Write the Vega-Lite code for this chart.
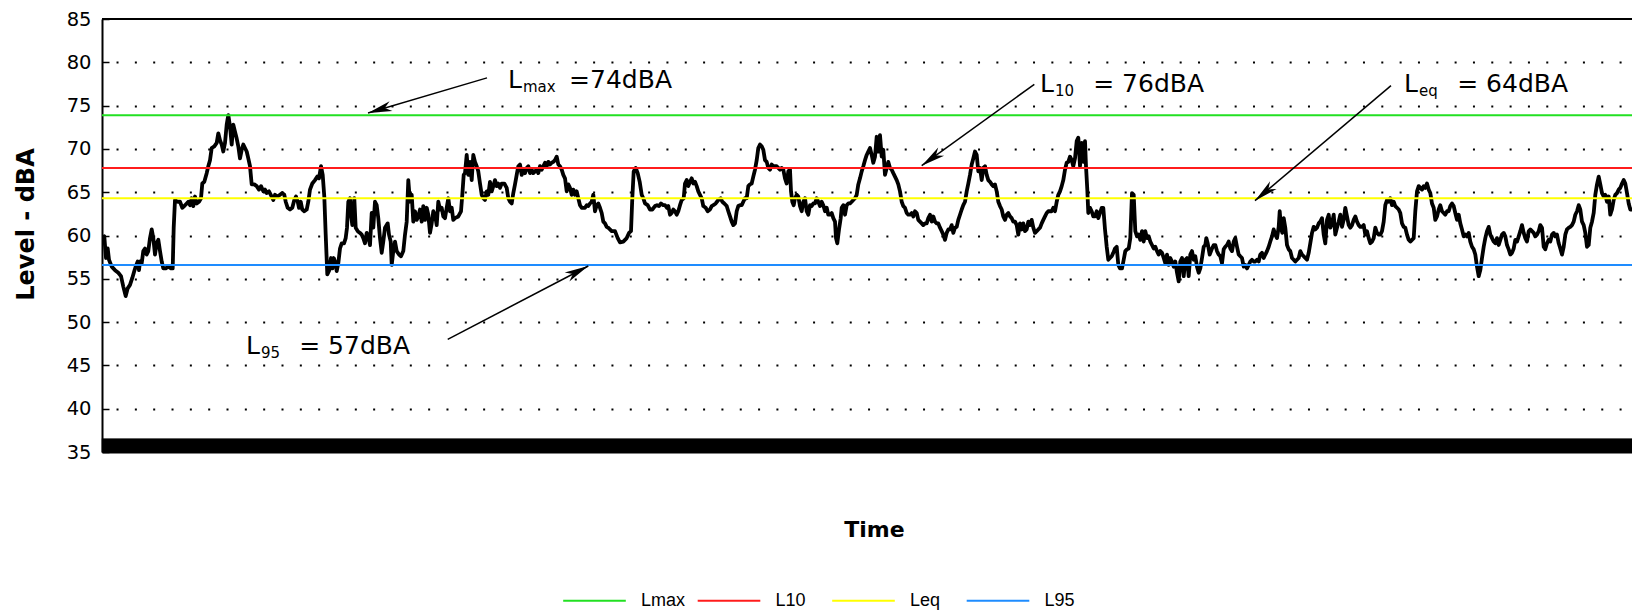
{
  "$schema": "https://vega.github.io/schema/vega-lite/v6.json",
  "autosize": {"type": "none"},
  "padding": {"left": 102, "top": 19, "right": 0, "bottom": 158},
  "width": 1530,
  "height": 433,
  "config": {"view": {"stroke": null}, "font": "DejaVu Sans"},
  "datasets": {
    "noise": [
      {"t":0,"dBA":59.7},{"t":2.3,"dBA":59.9},{"t":4,"dBA":57.4},{"t":5.7,"dBA":58.5},{"t":7,"dBA":57.2},{"t":9.7,"dBA":56.4},{"t":13,"dBA":56.0},{"t":16.3,"dBA":55.7},{"t":19,"dBA":55.3},{"t":21.3,"dBA":54.1},{"t":23.7,"dBA":53.0},{"t":25.7,"dBA":53.9},{"t":28,"dBA":54.3},{"t":30.3,"dBA":55.1},{"t":32.3,"dBA":55.9},{"t":33.7,"dBA":56.4},{"t":35.7,"dBA":57.0},{"t":37,"dBA":56.0},{"t":38,"dBA":57.0},{"t":39.7,"dBA":56.8},{"t":41.3,"dBA":58.2},{"t":43,"dBA":58.5},{"t":44.7,"dBA":57.8},{"t":46.3,"dBA":58.2},{"t":48,"dBA":59.7},{"t":49.7,"dBA":60.7},{"t":51.3,"dBA":59.7},{"t":53,"dBA":57.8},{"t":54.7,"dBA":59.1},{"t":56.3,"dBA":59.5},{"t":58,"dBA":58.2},{"t":59.7,"dBA":57.0},{"t":61.3,"dBA":56.2},{"t":63.7,"dBA":56.2},{"t":66.3,"dBA":56.4},{"t":69,"dBA":56.2},{"t":70.7,"dBA":56.2},{"t":71.7,"dBA":60.9},{"t":73,"dBA":64.1},{"t":75.7,"dBA":63.9},{"t":78,"dBA":63.9},{"t":80.3,"dBA":63.2},{"t":82.3,"dBA":63.4},{"t":84.7,"dBA":63.7},{"t":86.3,"dBA":63.9},{"t":88,"dBA":63.5},{"t":89.7,"dBA":64.3},{"t":91.3,"dBA":63.4},{"t":93,"dBA":64.5},{"t":94.7,"dBA":63.7},{"t":97,"dBA":63.9},{"t":99,"dBA":64.3},{"t":100.3,"dBA":66.0},{"t":102.3,"dBA":66.2},{"t":104.7,"dBA":67.2},{"t":106.3,"dBA":68.0},{"t":108,"dBA":68.7},{"t":109.7,"dBA":70.1},{"t":112.3,"dBA":70.3},{"t":114.7,"dBA":70.7},{"t":116.3,"dBA":71.8},{"t":118,"dBA":71.0},{"t":119.7,"dBA":70.5},{"t":121.3,"dBA":69.7},{"t":123,"dBA":70.7},{"t":124.7,"dBA":72.8},{"t":126.3,"dBA":73.9},{"t":128,"dBA":72.6},{"t":129.7,"dBA":70.5},{"t":131.3,"dBA":72.8},{"t":133,"dBA":72.0},{"t":134.7,"dBA":71.2},{"t":136.3,"dBA":70.3},{"t":138,"dBA":68.9},{"t":139.7,"dBA":69.9},{"t":141.3,"dBA":70.5},{"t":143,"dBA":70.1},{"t":144.7,"dBA":69.7},{"t":146.3,"dBA":68.9},{"t":148,"dBA":68.0},{"t":149.7,"dBA":65.9},{"t":152.3,"dBA":65.9},{"t":154.7,"dBA":65.7},{"t":157,"dBA":65.3},{"t":159,"dBA":65.7},{"t":161.3,"dBA":65.1},{"t":163,"dBA":65.3},{"t":164.7,"dBA":64.9},{"t":167,"dBA":65.1},{"t":169.7,"dBA":64.5},{"t":171.3,"dBA":64.1},{"t":173,"dBA":64.7},{"t":175.7,"dBA":64.5},{"t":178,"dBA":64.7},{"t":180.3,"dBA":64.9},{"t":182.3,"dBA":64.7},{"t":183.7,"dBA":63.9},{"t":185.7,"dBA":63.2},{"t":188,"dBA":63.0},{"t":190.3,"dBA":63.2},{"t":192.3,"dBA":64.1},{"t":194,"dBA":64.5},{"t":195.7,"dBA":63.9},{"t":197,"dBA":63.2},{"t":198.7,"dBA":63.9},{"t":200.3,"dBA":63.0},{"t":202.3,"dBA":62.8},{"t":204.7,"dBA":63.0},{"t":206.3,"dBA":63.9},{"t":208,"dBA":65.3},{"t":210.3,"dBA":66.0},{"t":213,"dBA":66.4},{"t":215.3,"dBA":66.8},{"t":217,"dBA":66.6},{"t":219,"dBA":68.0},{"t":220.7,"dBA":67.0},{"t":222.3,"dBA":64.5},{"t":223.7,"dBA":60.1},{"t":225.3,"dBA":55.5},{"t":227,"dBA":55.9},{"t":229,"dBA":57.4},{"t":230.3,"dBA":56.2},{"t":231.7,"dBA":57.4},{"t":233,"dBA":57.0},{"t":234.7,"dBA":55.9},{"t":236.3,"dBA":56.8},{"t":238,"dBA":58.5},{"t":239.7,"dBA":59.1},{"t":242,"dBA":59.1},{"t":243.7,"dBA":59.7},{"t":245,"dBA":60.9},{"t":246.3,"dBA":63.9},{"t":248,"dBA":64.3},{"t":249,"dBA":62.4},{"t":250.3,"dBA":61.2},{"t":252.3,"dBA":64.3},{"t":253.7,"dBA":60.9},{"t":255.7,"dBA":60.5},{"t":258,"dBA":60.3},{"t":259.7,"dBA":60.1},{"t":261.3,"dBA":59.7},{"t":263,"dBA":59.1},{"t":264.7,"dBA":60.3},{"t":266.3,"dBA":59.9},{"t":268,"dBA":58.9},{"t":269.7,"dBA":62.6},{"t":271.3,"dBA":60.9},{"t":273,"dBA":63.9},{"t":274.7,"dBA":63.5},{"t":276.3,"dBA":62.0},{"t":278,"dBA":59.7},{"t":279.7,"dBA":58.0},{"t":281.3,"dBA":59.3},{"t":283,"dBA":60.9},{"t":285.7,"dBA":61.4},{"t":287,"dBA":60.1},{"t":288.7,"dBA":59.3},{"t":289.7,"dBA":56.6},{"t":291.3,"dBA":58.2},{"t":293,"dBA":59.3},{"t":294.7,"dBA":58.2},{"t":297,"dBA":57.8},{"t":299,"dBA":57.6},{"t":301.3,"dBA":58.2},{"t":303,"dBA":60.1},{"t":304.7,"dBA":61.6},{"t":306.3,"dBA":66.4},{"t":308,"dBA":63.9},{"t":309.7,"dBA":64.7},{"t":311.3,"dBA":61.6},{"t":313,"dBA":62.8},{"t":314.7,"dBA":61.8},{"t":316.3,"dBA":62.2},{"t":318,"dBA":63.0},{"t":319.7,"dBA":61.6},{"t":321.3,"dBA":63.4},{"t":323,"dBA":61.8},{"t":324.7,"dBA":63.2},{"t":326.3,"dBA":62.4},{"t":328,"dBA":60.3},{"t":329.7,"dBA":61.4},{"t":331.3,"dBA":62.8},{"t":333,"dBA":62.4},{"t":334.7,"dBA":61.2},{"t":336.3,"dBA":63.9},{"t":338,"dBA":63.0},{"t":339.7,"dBA":63.2},{"t":341.3,"dBA":62.2},{"t":343,"dBA":62.0},{"t":344.7,"dBA":63.2},{"t":346.3,"dBA":64.3},{"t":348,"dBA":62.8},{"t":349.7,"dBA":63.2},{"t":351.3,"dBA":61.8},{"t":353,"dBA":62.0},{"t":356.3,"dBA":62.2},{"t":359,"dBA":62.8},{"t":360.3,"dBA":64.7},{"t":361.7,"dBA":67.0},{"t":363,"dBA":67.2},{"t":364.7,"dBA":69.3},{"t":366.3,"dBA":67.0},{"t":368,"dBA":68.5},{"t":369.7,"dBA":66.4},{"t":371.3,"dBA":69.3},{"t":373,"dBA":68.5},{"t":374.7,"dBA":68.0},{"t":376.3,"dBA":67.4},{"t":378,"dBA":66.0},{"t":379.7,"dBA":64.7},{"t":381.3,"dBA":64.3},{"t":383,"dBA":64.1},{"t":384.7,"dBA":65.1},{"t":386.3,"dBA":64.7},{"t":388,"dBA":66.2},{"t":389.7,"dBA":65.1},{"t":391.3,"dBA":65.7},{"t":393,"dBA":66.4},{"t":394.7,"dBA":65.7},{"t":396.3,"dBA":66.0},{"t":398,"dBA":65.5},{"t":399.7,"dBA":66.0},{"t":402.3,"dBA":66.0},{"t":404.7,"dBA":65.5},{"t":406.3,"dBA":64.3},{"t":408,"dBA":63.9},{"t":409.7,"dBA":63.7},{"t":411.3,"dBA":64.9},{"t":413,"dBA":65.9},{"t":414.7,"dBA":67.0},{"t":416.3,"dBA":68.0},{"t":418,"dBA":68.2},{"t":419.7,"dBA":67.0},{"t":421.3,"dBA":67.6},{"t":423,"dBA":67.2},{"t":424.7,"dBA":67.8},{"t":426.3,"dBA":68.0},{"t":428,"dBA":67.2},{"t":429.7,"dBA":67.6},{"t":431.3,"dBA":67.2},{"t":433,"dBA":67.4},{"t":434.7,"dBA":67.6},{"t":436.3,"dBA":67.2},{"t":438,"dBA":68.0},{"t":439.7,"dBA":67.6},{"t":441.3,"dBA":68.0},{"t":443,"dBA":68.4},{"t":444.7,"dBA":68.0},{"t":446.3,"dBA":68.5},{"t":448,"dBA":68.2},{"t":449.7,"dBA":68.4},{"t":451.3,"dBA":68.5},{"t":453,"dBA":68.7},{"t":454.7,"dBA":69.1},{"t":456.3,"dBA":68.2},{"t":458,"dBA":68.0},{"t":459.7,"dBA":67.6},{"t":461.3,"dBA":67.0},{"t":463,"dBA":66.6},{"t":464.7,"dBA":65.1},{"t":466.3,"dBA":65.9},{"t":468,"dBA":65.5},{"t":469.7,"dBA":64.7},{"t":471.3,"dBA":65.3},{"t":473,"dBA":64.7},{"t":474.7,"dBA":65.1},{"t":476.3,"dBA":64.3},{"t":478,"dBA":63.5},{"t":479.7,"dBA":63.2},{"t":481.3,"dBA":63.2},{"t":483,"dBA":63.2},{"t":484.7,"dBA":63.5},{"t":486.3,"dBA":63.4},{"t":488,"dBA":63.7},{"t":489.7,"dBA":63.9},{"t":491.3,"dBA":64.7},{"t":493,"dBA":62.8},{"t":494.7,"dBA":63.5},{"t":496.3,"dBA":63.7},{"t":498,"dBA":63.2},{"t":499.7,"dBA":62.6},{"t":501.3,"dBA":61.6},{"t":503,"dBA":61.4},{"t":504.7,"dBA":61.0},{"t":506.3,"dBA":60.9},
      {"t":509.7,"dBA":60.5},{"t":513,"dBA":60.5},{"t":515.7,"dBA":59.7},{"t":518,"dBA":59.2},{"t":521.3,"dBA":59.3},{"t":524.7,"dBA":59.7},{"t":527,"dBA":60.3},{"t":529,"dBA":60.5},{"t":530.3,"dBA":64.3},{"t":531.7,"dBA":67.4},{"t":533.7,"dBA":67.8},{"t":535.7,"dBA":67.2},{"t":537.7,"dBA":66.2},{"t":539.7,"dBA":64.7},{"t":541.3,"dBA":64.3},{"t":543,"dBA":63.7},{"t":545.7,"dBA":63.5},{"t":548,"dBA":63.0},{"t":550.3,"dBA":63.0},{"t":553,"dBA":63.4},{"t":555,"dBA":63.5},{"t":557,"dBA":63.4},{"t":559,"dBA":63.7},{"t":561.3,"dBA":63.5},{"t":563,"dBA":63.5},{"t":565,"dBA":63.2},{"t":566.3,"dBA":63.4},{"t":568,"dBA":62.4},{"t":569.7,"dBA":62.6},{"t":571.3,"dBA":63.0},{"t":573,"dBA":62.8},{"t":574.7,"dBA":62.4},{"t":576.3,"dBA":62.8},{"t":578,"dBA":63.5},{"t":579.7,"dBA":64.1},{"t":581.7,"dBA":64.3},{"t":583,"dBA":66.0},{"t":584.7,"dBA":66.4},{"t":586.3,"dBA":65.7},{"t":588,"dBA":66.2},{"t":589.7,"dBA":66.6},{"t":591.3,"dBA":66.0},{"t":593,"dBA":66.2},{"t":594.7,"dBA":65.7},{"t":596.3,"dBA":65.1},{"t":598,"dBA":64.7},{"t":599.7,"dBA":64.3},{"t":601.3,"dBA":63.4},{"t":603.7,"dBA":63.2},{"t":605.7,"dBA":62.8},{"t":608,"dBA":63.0},{"t":609.7,"dBA":63.4},{"t":611.3,"dBA":63.5},{"t":613.7,"dBA":63.7},{"t":616.3,"dBA":64.1},{"t":618.7,"dBA":64.3},{"t":620.3,"dBA":63.9},{"t":622.3,"dBA":63.7},{"t":624.7,"dBA":63.4},{"t":626.3,"dBA":62.8},{"t":628,"dBA":62.2},{"t":629.7,"dBA":61.6},{"t":631.3,"dBA":61.2},{"t":633,"dBA":61.4},{"t":634.7,"dBA":62.8},{"t":636.3,"dBA":63.4},{"t":638,"dBA":63.5},{"t":639.7,"dBA":63.5},{"t":641.3,"dBA":63.9},{"t":643,"dBA":64.3},{"t":644.7,"dBA":64.3},{"t":646.3,"dBA":65.7},{"t":648,"dBA":65.9},{"t":649.7,"dBA":66.0},{"t":651.3,"dBA":66.8},{"t":653,"dBA":67.6},{"t":654.7,"dBA":68.7},{"t":656.3,"dBA":70.1},{"t":658,"dBA":70.5},{"t":659.7,"dBA":70.3},{"t":661.3,"dBA":69.9},{"t":663,"dBA":68.7},{"t":664.7,"dBA":68.5},{"t":666.3,"dBA":67.8},{"t":668,"dBA":67.6},{"t":669.7,"dBA":68.2},{"t":671.3,"dBA":68.0},{"t":673,"dBA":68.0},{"t":674.7,"dBA":68.0},{"t":676.3,"dBA":67.8},{"t":678,"dBA":67.6},{"t":679.7,"dBA":67.8},{"t":681.3,"dBA":67.6},{"t":683,"dBA":66.6},{"t":684.7,"dBA":66.0},{"t":686.3,"dBA":67.4},{"t":688,"dBA":67.6},{"t":689,"dBA":65.1},{"t":690.3,"dBA":63.9},{"t":691.7,"dBA":63.5},{"t":693,"dBA":64.3},{"t":694.7,"dBA":64.7},{"t":696.3,"dBA":64.5},{"t":698,"dBA":63.4},{"t":699.7,"dBA":62.8},{"t":701.3,"dBA":63.9},{"t":703,"dBA":64.3},{"t":704.7,"dBA":62.8},{"t":706.3,"dBA":62.4},{"t":708,"dBA":63.5},{"t":709.7,"dBA":63.4},{"t":711.3,"dBA":63.7},{"t":713,"dBA":63.7},{"t":714.7,"dBA":64.3},{"t":716.3,"dBA":63.9},{"t":718,"dBA":63.4},{"t":719.7,"dBA":63.9},{"t":721.3,"dBA":63.5},{"t":723,"dBA":62.8},{"t":724.7,"dBA":63.2},{"t":726.3,"dBA":62.4},{"t":728,"dBA":62.4},{"t":729.7,"dBA":62.6},{"t":731.3,"dBA":62.0},{"t":733,"dBA":61.6},{"t":734,"dBA":59.7},{"t":735.3,"dBA":59.1},{"t":737,"dBA":60.7},{"t":738.7,"dBA":62.0},{"t":739.7,"dBA":63.2},{"t":741.3,"dBA":63.5},{"t":743,"dBA":62.4},{"t":744.7,"dBA":63.5},{"t":746.3,"dBA":63.7},{"t":748,"dBA":63.7},{"t":749.7,"dBA":63.9},{"t":751.3,"dBA":64.1},{"t":753,"dBA":64.3},{"t":754.7,"dBA":64.7},{"t":756.3,"dBA":65.9},{"t":758,"dBA":66.6},{"t":759.7,"dBA":67.4},{"t":761.3,"dBA":68.0},{"t":763,"dBA":68.7},{"t":764.7,"dBA":69.3},{"t":766.3,"dBA":69.7},{"t":768,"dBA":70.1},{"t":769.7,"dBA":69.3},{"t":771.3,"dBA":68.4},{"t":773,"dBA":69.1},{"t":774.7,"dBA":71.4},{"t":776.3,"dBA":69.7},{"t":778,"dBA":71.6},{"t":779.7,"dBA":69.1},{"t":781.3,"dBA":69.9},{"t":783,"dBA":67.0},{"t":784.7,"dBA":67.8},{"t":786.3,"dBA":68.5},{"t":788,"dBA":67.8},{"t":789.7,"dBA":67.6},{"t":791.3,"dBA":67.2},{"t":793,"dBA":66.8},{"t":794.7,"dBA":66.4},{"t":796.3,"dBA":65.9},{"t":798,"dBA":65.1},{"t":799.7,"dBA":63.9},{"t":801.3,"dBA":63.4},{"t":803,"dBA":63.2},{"t":804.7,"dBA":62.6},{"t":806.3,"dBA":62.4},{"t":808,"dBA":62.4},{"t":809.7,"dBA":62.6},{"t":811.3,"dBA":62.2},{"t":813,"dBA":62.8},{"t":814.7,"dBA":62.6},{"t":816.3,"dBA":61.8},{"t":818,"dBA":61.6},{"t":819.7,"dBA":61.4},{"t":821.3,"dBA":61.2},{"t":823,"dBA":61.4},{"t":824.7,"dBA":61.4},{"t":826.3,"dBA":62.0},{"t":828,"dBA":62.4},{"t":829.7,"dBA":61.6},{"t":831.3,"dBA":62.2},{"t":833,"dBA":61.6},{"t":834.7,"dBA":61.4},{"t":836.3,"dBA":61.4},{"t":838,"dBA":60.9},{"t":839.7,"dBA":60.5},{"t":841.3,"dBA":60.1},{"t":843,"dBA":59.5},{"t":844.7,"dBA":60.3},{"t":846.3,"dBA":60.7},{"t":848,"dBA":60.7},{"t":849.7,"dBA":61.2},{"t":851.3,"dBA":60.3},{"t":853,"dBA":60.9},{"t":854.7,"dBA":61.0},{"t":856.3,"dBA":61.8},{"t":858,"dBA":62.4},{"t":859.7,"dBA":63.0},{"t":861.3,"dBA":63.5},{"t":863,"dBA":63.9},{"t":864.7,"dBA":65.1},{"t":866.3,"dBA":66.0},{"t":868,"dBA":67.0},{"t":869.7,"dBA":68.2},{"t":871.3,"dBA":68.9},{"t":873,"dBA":69.7},{"t":874.7,"dBA":69.3},{"t":876.3,"dBA":67.4},{"t":878,"dBA":67.8},{"t":879.7,"dBA":66.4},{"t":881.3,"dBA":67.8},{"t":883,"dBA":68.0},{"t":884.7,"dBA":67.0},{"t":886.3,"dBA":66.4},{"t":888,"dBA":66.2},{"t":889.7,"dBA":65.9},{"t":891.3,"dBA":65.7},{"t":893,"dBA":65.9},{"t":894.7,"dBA":65.1},{"t":896.3,"dBA":63.9},{"t":898,"dBA":63.4},{"t":899.7,"dBA":63.0},{"t":901.3,"dBA":62.2},{"t":903,"dBA":61.8},{"t":904.7,"dBA":62.4},{"t":906.3,"dBA":62.6},{"t":908,"dBA":62.2},{"t":909.7,"dBA":62.0},{"t":911.3,"dBA":61.6},{"t":913,"dBA":61.6},{"t":914.7,"dBA":61.2},{"t":916.3,"dBA":60.1},{"t":918,"dBA":61.4},{"t":919.7,"dBA":60.7},{"t":921.3,"dBA":61.4},{"t":923,"dBA":60.5},{"t":924.7,"dBA":60.7},{"t":926.3,"dBA":61.6},{"t":928,"dBA":61.2},{"t":929.7,"dBA":61.8},{"t":931.3,"dBA":60.9},{"t":933,"dBA":60.3},{"t":934.7,"dBA":60.5},{"t":936.3,"dBA":60.7},{"t":938,"dBA":60.9},{"t":939.7,"dBA":61.4},{"t":941.3,"dBA":61.8},{"t":943,"dBA":62.2},{"t":944.7,"dBA":62.6},{"t":946.3,"dBA":62.8},{"t":948,"dBA":62.8},{"t":949.7,"dBA":62.8},{"t":951.3,"dBA":63.2},{"t":953,"dBA":62.8},{"t":954.7,"dBA":63.9},{"t":956.3,"dBA":64.7},{"t":958,"dBA":65.1},{"t":959.7,"dBA":65.7},{"t":961.3,"dBA":66.4},{"t":963,"dBA":67.6},{"t":964.7,"dBA":68.4},{"t":966.3,"dBA":68.5},{"t":968,"dBA":69.1},{"t":969.7,"dBA":68.7},{"t":971.3,"dBA":68.0},{"t":973,"dBA":68.9},{"t":974.7,"dBA":70.9},{"t":976.3,"dBA":71.3},{"t":978,"dBA":68.0},{"t":979.7,"dBA":70.7},{"t":981.3,"dBA":68.5},{"t":983,"dBA":70.9},{"t":984,"dBA":68.0},{"t":985.3,"dBA":65.3},{"t":986.3,"dBA":62.6},{"t":988,"dBA":63.2},{"t":989.7,"dBA":62.8},{"t":991.3,"dBA":62.2},{"t":993,"dBA":62.2},{"t":994.7,"dBA":62.8},{"t":996.3,"dBA":62.0},{"t":998,"dBA":62.6},{"t":999.7,"dBA":63.2},{"t":1001.3,"dBA":63.2},{"t":1003,"dBA":60.7},{"t":1004.7,"dBA":58.7},{"t":1006.3,"dBA":57.2},{"t":1008,"dBA":57.4},{"t":1009.7,"dBA":57.6},{"t":1011.3,"dBA":58.0},{"t":1013,"dBA":58.5},{"t":1014.7,"dBA":58.7},{"t":1016.3,"dBA":56.6},{"t":1018,"dBA":56.2},
      {"t":1020,"dBA":56.2},{"t":1021.7,"dBA":57.2},{"t":1023.3,"dBA":58.2},{"t":1025,"dBA":58.4},{"t":1026.7,"dBA":58.5},{"t":1028.3,"dBA":59.7},{"t":1030,"dBA":64.9},{"t":1031.7,"dBA":64.7},{"t":1033.3,"dBA":60.5},{"t":1035,"dBA":59.9},{"t":1036.7,"dBA":60.1},{"t":1038.3,"dBA":59.5},{"t":1040,"dBA":60.5},{"t":1041.7,"dBA":59.3},{"t":1043.3,"dBA":60.5},{"t":1045,"dBA":59.7},{"t":1046.7,"dBA":59.9},{"t":1048.3,"dBA":59.3},{"t":1050,"dBA":58.9},{"t":1051.7,"dBA":58.5},{"t":1053.3,"dBA":58.7},{"t":1055,"dBA":58.2},{"t":1056.7,"dBA":57.8},{"t":1058.3,"dBA":58.2},{"t":1060,"dBA":58.0},{"t":1061.7,"dBA":57.4},{"t":1063.3,"dBA":56.8},{"t":1065,"dBA":57.8},{"t":1066.7,"dBA":56.6},{"t":1068.3,"dBA":57.4},{"t":1070,"dBA":57.0},{"t":1071.7,"dBA":56.4},{"t":1073.3,"dBA":57.0},{"t":1075,"dBA":55.7},{"t":1076.7,"dBA":54.7},{"t":1078.3,"dBA":57.0},{"t":1080,"dBA":57.4},{"t":1081.7,"dBA":55.3},{"t":1083.3,"dBA":57.2},{"t":1085,"dBA":57.4},{"t":1086.7,"dBA":55.3},{"t":1088.3,"dBA":57.8},{"t":1090,"dBA":58.2},{"t":1091.7,"dBA":57.2},{"t":1093.3,"dBA":57.6},{"t":1095,"dBA":56.4},{"t":1096.7,"dBA":55.7},{"t":1098.3,"dBA":56.2},{"t":1100,"dBA":57.4},{"t":1101.7,"dBA":58.7},{"t":1103.3,"dBA":58.9},{"t":1104.3,"dBA":59.7},{"t":1105.7,"dBA":59.1},{"t":1107.7,"dBA":57.8},{"t":1110,"dBA":58.5},{"t":1111.7,"dBA":58.9},{"t":1113.3,"dBA":58.9},{"t":1115,"dBA":58.2},{"t":1116.7,"dBA":57.8},{"t":1118.3,"dBA":57.6},{"t":1120,"dBA":56.8},{"t":1121.7,"dBA":58.4},{"t":1123.3,"dBA":58.7},{"t":1125,"dBA":58.9},{"t":1126.7,"dBA":59.3},{"t":1128.3,"dBA":58.5},{"t":1130,"dBA":58.2},{"t":1131.7,"dBA":59.3},{"t":1133.3,"dBA":59.7},{"t":1135,"dBA":58.7},{"t":1136.7,"dBA":57.8},{"t":1138.3,"dBA":57.6},{"t":1140,"dBA":57.4},{"t":1141.7,"dBA":56.4},{"t":1143.3,"dBA":56.6},{"t":1145,"dBA":56.2},{"t":1146.7,"dBA":56.6},{"t":1148.3,"dBA":57.0},{"t":1150,"dBA":57.2},{"t":1151.7,"dBA":57.0},{"t":1153.3,"dBA":57.0},{"t":1155,"dBA":57.2},{"t":1156.7,"dBA":57.0},{"t":1158.3,"dBA":57.8},{"t":1160,"dBA":58.0},{"t":1161.7,"dBA":57.4},{"t":1163.3,"dBA":57.8},{"t":1165,"dBA":58.2},{"t":1166.7,"dBA":58.7},{"t":1168.3,"dBA":59.3},{"t":1170,"dBA":59.9},{"t":1171.7,"dBA":60.7},{"t":1173.3,"dBA":60.1},{"t":1175,"dBA":59.7},{"t":1176.7,"dBA":61.0},{"t":1177.7,"dBA":62.8},{"t":1179,"dBA":60.9},{"t":1180.3,"dBA":60.3},{"t":1181.7,"dBA":62.0},{"t":1183.3,"dBA":60.9},{"t":1185,"dBA":58.9},{"t":1186.7,"dBA":58.4},{"t":1188.3,"dBA":58.2},{"t":1190,"dBA":57.4},{"t":1191.7,"dBA":57.2},{"t":1193.3,"dBA":57.0},{"t":1195,"dBA":57.2},{"t":1196.7,"dBA":57.4},{"t":1198.3,"dBA":58.2},{"t":1200,"dBA":57.8},{"t":1201.7,"dBA":57.6},{"t":1203.3,"dBA":57.4},{"t":1205,"dBA":57.2},{"t":1206.7,"dBA":58.0},{"t":1208.3,"dBA":59.1},{"t":1210,"dBA":60.3},{"t":1211.7,"dBA":61.0},{"t":1213.3,"dBA":60.7},{"t":1215,"dBA":60.9},{"t":1216.7,"dBA":61.4},{"t":1218.3,"dBA":61.6},{"t":1220,"dBA":62.0},{"t":1221.7,"dBA":60.1},{"t":1223.3,"dBA":59.1},{"t":1225,"dBA":61.8},{"t":1226.7,"dBA":62.4},{"t":1228.3,"dBA":60.9},{"t":1230,"dBA":61.4},{"t":1231.7,"dBA":62.4},{"t":1233.3,"dBA":60.1},{"t":1235,"dBA":60.9},{"t":1236.7,"dBA":61.6},{"t":1238.3,"dBA":62.4},{"t":1240,"dBA":61.0},{"t":1241.7,"dBA":61.8},{"t":1243.3,"dBA":63.2},{"t":1245,"dBA":62.2},{"t":1246.7,"dBA":61.2},{"t":1248.3,"dBA":60.9},{"t":1250,"dBA":61.2},{"t":1251.7,"dBA":61.8},{"t":1253.3,"dBA":62.2},{"t":1255,"dBA":61.6},{"t":1256.7,"dBA":61.2},{"t":1258.3,"dBA":61.0},{"t":1260,"dBA":61.0},{"t":1261.7,"dBA":61.2},{"t":1263.3,"dBA":60.1},{"t":1265,"dBA":60.5},{"t":1266.7,"dBA":59.7},{"t":1268.3,"dBA":59.1},{"t":1270,"dBA":59.3},{"t":1271.7,"dBA":59.7},{"t":1273.3,"dBA":60.9},{"t":1275,"dBA":60.3},{"t":1276.7,"dBA":60.1},{"t":1278.3,"dBA":60.1},{"t":1280,"dBA":60.5},{"t":1281.7,"dBA":61.6},{"t":1283.3,"dBA":63.5},{"t":1285,"dBA":64.1},{"t":1286.7,"dBA":63.9},{"t":1288.3,"dBA":64.3},{"t":1290,"dBA":63.5},{"t":1291.7,"dBA":63.9},{"t":1293.3,"dBA":63.4},{"t":1295,"dBA":63.2},{"t":1296.7,"dBA":63.0},{"t":1298.3,"dBA":62.6},{"t":1300,"dBA":61.4},{"t":1301.7,"dBA":61.0},{"t":1303.3,"dBA":60.9},{"t":1305,"dBA":60.1},{"t":1306.7,"dBA":59.5},{"t":1308.3,"dBA":59.3},{"t":1310,"dBA":59.5},{"t":1311.7,"dBA":59.7},{"t":1313.3,"dBA":62.8},{"t":1315,"dBA":65.1},{"t":1316.7,"dBA":65.7},{"t":1318.3,"dBA":65.5},{"t":1320,"dBA":65.3},{"t":1321.7,"dBA":65.7},{"t":1323.3,"dBA":65.5},{"t":1325,"dBA":66.0},{"t":1326.7,"dBA":65.3},{"t":1328.3,"dBA":64.9},{"t":1330,"dBA":63.7},{"t":1331.7,"dBA":63.2},{"t":1333.3,"dBA":61.8},{"t":1335,"dBA":62.2},{"t":1336.7,"dBA":63.0},{"t":1338.3,"dBA":63.5},{"t":1340,"dBA":62.8},{"t":1341.7,"dBA":62.6},{"t":1343.3,"dBA":62.4},{"t":1345,"dBA":62.8},{"t":1346.7,"dBA":62.8},{"t":1348.3,"dBA":63.4},{"t":1350,"dBA":63.7},{"t":1351.7,"dBA":63.4},{"t":1353.3,"dBA":62.6},{"t":1355,"dBA":61.8},{"t":1356.7,"dBA":62.4},{"t":1358.3,"dBA":61.4},{"t":1360,"dBA":60.7},{"t":1361.7,"dBA":59.9},{"t":1363.3,"dBA":60.1},{"t":1365,"dBA":59.9},{"t":1366.7,"dBA":60.3},{"t":1368.3,"dBA":59.3},{"t":1370,"dBA":58.7},{"t":1371.7,"dBA":58.4},{"t":1373.3,"dBA":57.8},{"t":1375,"dBA":56.4},{"t":1376.7,"dBA":55.3},{"t":1378.3,"dBA":56.0},{"t":1380,"dBA":57.4},{"t":1381.7,"dBA":58.7},{"t":1383.3,"dBA":59.7},{"t":1385,"dBA":60.5},{"t":1386.7,"dBA":61.0},{"t":1388.3,"dBA":60.1},{"t":1390,"dBA":59.7},{"t":1391.7,"dBA":59.3},{"t":1393.3,"dBA":59.1},{"t":1395,"dBA":59.7},{"t":1396.7,"dBA":58.9},{"t":1398.3,"dBA":59.5},{"t":1400,"dBA":60.1},{"t":1401.7,"dBA":60.3},{"t":1403.3,"dBA":59.9},{"t":1405,"dBA":58.9},{"t":1406.7,"dBA":58.4},{"t":1408.3,"dBA":57.8},{"t":1410,"dBA":58.0},{"t":1411.7,"dBA":58.5},{"t":1413.3,"dBA":59.5},{"t":1415,"dBA":59.3},{"t":1416.7,"dBA":59.9},{"t":1418.3,"dBA":60.5},{"t":1420,"dBA":61.2},{"t":1421.7,"dBA":60.3},{"t":1423.3,"dBA":59.7},{"t":1425,"dBA":59.3},{"t":1426.7,"dBA":60.5},{"t":1428.3,"dBA":60.7},{"t":1430,"dBA":60.5},{"t":1431.7,"dBA":60.3},{"t":1433.3,"dBA":59.9},{"t":1435,"dBA":60.1},{"t":1436.7,"dBA":60.5},{"t":1438.3,"dBA":61.2},{"t":1440,"dBA":60.9},{"t":1441.7,"dBA":58.7},{"t":1443.3,"dBA":58.4},{"t":1445,"dBA":59.1},{"t":1446.7,"dBA":59.5},{"t":1448.3,"dBA":59.3},{"t":1450,"dBA":60.1},{"t":1451.7,"dBA":60.3},{"t":1453.3,"dBA":59.9},{"t":1455,"dBA":60.1},{"t":1456.7,"dBA":59.1},{"t":1458.3,"dBA":58.5},{"t":1460,"dBA":57.8},{"t":1461.7,"dBA":58.7},{"t":1463.3,"dBA":60.1},{"t":1465,"dBA":60.7},{"t":1466.7,"dBA":60.9},{"t":1468.3,"dBA":61.0},{"t":1470,"dBA":61.2},{"t":1471.7,"dBA":61.6},{"t":1473.3,"dBA":62.4},{"t":1475,"dBA":62.8},{"t":1476.7,"dBA":63.5},{"t":1478.3,"dBA":63.0},{"t":1480,"dBA":61.6},{"t":1481.7,"dBA":61.2},{"t":1483.3,"dBA":60.3},{"t":1485,"dBA":58.7},{"t":1486.7,"dBA":58.9},{"t":1488.3,"dBA":60.9},{"t":1490,"dBA":61.6},{"t":1491.7,"dBA":62.6},{"t":1493.3,"dBA":64.7},{"t":1495,"dBA":65.9},{"t":1496.7,"dBA":66.8},{"t":1498.3,"dBA":65.9},{"t":1500,"dBA":64.9},{"t":1501.7,"dBA":64.5},{"t":1503.3,"dBA":64.7},{"t":1505,"dBA":63.9},{"t":1506.7,"dBA":64.5},{"t":1508.3,"dBA":62.4},{"t":1510,"dBA":63.0},{"t":1511.7,"dBA":64.1},{"t":1513.3,"dBA":64.7},{"t":1515,"dBA":64.9},{"t":1516.7,"dBA":65.3},{"t":1518.3,"dBA":65.5},{"t":1520,"dBA":66.0},{"t":1521.7,"dBA":66.4},{"t":1523.3,"dBA":66.0},{"t":1525,"dBA":64.9},{"t":1526.7,"dBA":63.7},{"t":1528.3,"dBA":63.0},{"t":1530,"dBA":63.0}
    ],
    "levels": [
      {"stat": "Lmax", "level": 73.9},
      {"stat": "L10", "level": 67.8},
      {"stat": "Leq", "level": 64.3},
      {"stat": "L95", "level": 56.6}
    ],
    "callouts": [
      {"stat": "Lmax", "sub": "max", "rest": "=74dBA", "t": 406, "db": 77.0, "tail_t": 385, "tail_db": 78.2, "tip_t": 266, "tip_db": 74.15},
      {"stat": "L10", "sub": "10", "rest": "=  76dBA", "t": 938, "db": 76.57, "tail_t": 932.3, "tail_db": 77.46, "tip_t": 819.7, "tip_db": 68.06},
      {"stat": "Leq", "sub": "eq", "rest": "=  64dBA", "t": 1302, "db": 76.6, "tail_t": 1289, "tail_db": 77.3, "tip_t": 1153, "tip_db": 64.02},
      {"stat": "L95", "sub": "95", "rest": "=  57dBA", "t": 144, "db": 46.28, "tail_t": 345.7, "tail_db": 48.01, "tip_t": 486.3, "tip_db": 56.48}
    ]
  },
  "layer": [
    {
      "data": {"name": "noise"},
      "mark": {"type": "line", "color": "black", "strokeWidth": 3.8, "strokeJoin": "round", "strokeCap": "round", "clip": true},
      "encoding": {
        "x": {
          "field": "t", "type": "quantitative",
          "scale": {"domain": [0, 1530], "nice": false, "zero": false},
          "axis": {
            "title": "Time", "labels": false, "grid": false,
            "tickCount": 1530, "tickSize": -14, "tickWidth": 1.5, "tickColor": "black",
            "domainColor": "black", "domainWidth": 2,
            "titleFont": "DejaVu Sans", "titleFontSize": 22, "titleFontWeight": "bold", "titleColor": "black",
            "titlePadding": 67, "titleX": 772
          }
        },
        "y": {
          "field": "dBA", "type": "quantitative",
          "scale": {"domain": [35, 85], "nice": false, "zero": false},
          "axis": {
            "title": "Level - dBA",
            "values": [35, 37.5, 40, 42.5, 45, 47.5, 50, 52.5, 55, 57.5, 60, 62.5, 65, 67.5, 70, 72.5, 75, 77.5, 80, 82.5, 85],
            "labelExpr": "datum.value % 5 === 0 ? datum.label : ''",
            "labelFont": "DejaVu Sans", "labelFontSize": 19.5, "labelColor": "black", "labelPadding": 18,
            "tickSize": -7, "tickWidth": 1.5, "tickColor": "black",
            "domainColor": "black", "domainWidth": 2,
            "grid": true, "gridColor": "black", "gridWidth": 2, "gridDash": [2, 16.33], "gridDashOffset": 4.3,
            "gridOpacity": {"condition": {"test": "datum.value % 5 === 0 && datum.value > 35 && datum.value < 85", "value": 1}, "value": 0},
            "titleFont": "DejaVu Sans", "titleFontSize": 24, "titleFontWeight": "bold", "titleColor": "black",
            "titleAngle": -90, "titleAlign": "center", "titleBaseline": "middle",
            "titleX": -76, "titleY": 205
          }
        }
      }
    },
    {
      "data": {"name": "levels"},
      "mark": {"type": "rule", "strokeWidth": 2},
      "encoding": {
        "y": {"field": "level", "type": "quantitative"},
        "color": {
          "field": "stat", "type": "nominal",
          "scale": {"domain": ["Lmax", "L10", "Leq", "L95"], "range": ["#22e022", "#ff1c1c", "#ffff00", "#1e8cff"]},
          "legend": {
            "title": null, "orient": "none", "direction": "horizontal", "columns": 4,
            "legendX": 460, "legendY": 549, "padding": 0,
            "symbolType": "stroke", "symbolSize": 3920, "symbolStrokeWidth": 2,
            "labelFont": "Liberation Sans", "labelFontSize": 18, "labelColor": "black",
            "labelOffset": 14, "columnPadding": 7.5, "gridAlign": "all"
          }
        }
      }
    },
    {
      "data": {"values": [{}]},
      "mark": {"type": "rule", "color": "black", "strokeWidth": 2},
      "encoding": {"y": {"datum": 85, "type": "quantitative"}}
    },
    {
      "data": {"name": "callouts"},
      "mark": {"type": "rule", "color": "black", "strokeWidth": 1.5},
      "encoding": {
        "x": {"field": "tail_t", "type": "quantitative"},
        "y": {"field": "tail_db", "type": "quantitative"},
        "x2": {"field": "tip_t"},
        "y2": {"field": "tip_db"}
      }
    },
    {
      "data": {"values": [{}]},
      "mark": {"type": "point", "shape": "M0,0L-2,-0.42L-1.45,0L-2,0.42Z", "filled": true, "color": "black", "opacity": 1, "size": 576, "angle": 163.6},
      "encoding": {"x": {"datum": 266, "type": "quantitative"}, "y": {"datum": 74.15, "type": "quantitative"}}
    },
    {
      "data": {"values": [{}]},
      "mark": {"type": "point", "shape": "M0,0L-2,-0.42L-1.45,0L-2,0.42Z", "filled": true, "color": "black", "opacity": 1, "size": 576, "angle": 144.1},
      "encoding": {"x": {"datum": 819.7, "type": "quantitative"}, "y": {"datum": 68.06, "type": "quantitative"}}
    },
    {
      "data": {"values": [{}]},
      "mark": {"type": "point", "shape": "M0,0L-2,-0.42L-1.45,0L-2,0.42Z", "filled": true, "color": "black", "opacity": 1, "size": 576, "angle": 139.8},
      "encoding": {"x": {"datum": 1153, "type": "quantitative"}, "y": {"datum": 64.02, "type": "quantitative"}}
    },
    {
      "data": {"values": [{}]},
      "mark": {"type": "point", "shape": "M0,0L-2,-0.42L-1.45,0L-2,0.42Z", "filled": true, "color": "black", "opacity": 1, "size": 576, "angle": 332.5},
      "encoding": {"x": {"datum": 486.3, "type": "quantitative"}, "y": {"datum": 56.48, "type": "quantitative"}}
    },
    {
      "data": {"name": "callouts"},
      "mark": {"type": "text", "font": "DejaVu Sans", "fontSize": 25, "align": "left", "baseline": "alphabetic", "color": "black"},
      "encoding": {
        "x": {"field": "t", "type": "quantitative"},
        "y": {"field": "db", "type": "quantitative"},
        "text": {"value": "L"}
      }
    },
    {
      "data": {"name": "callouts"},
      "mark": {"type": "text", "font": "DejaVu Sans", "fontSize": 15, "align": "left", "baseline": "alphabetic", "color": "black", "dx": 15, "dy": 4},
      "encoding": {
        "x": {"field": "t", "type": "quantitative"},
        "y": {"field": "db", "type": "quantitative"},
        "text": {"field": "sub"}
      }
    },
    {
      "data": {"name": "callouts"},
      "mark": {"type": "text", "font": "DejaVu Sans", "fontSize": 25, "align": "right", "baseline": "alphabetic", "color": "black", "dx": 164},
      "encoding": {
        "x": {"field": "t", "type": "quantitative"},
        "y": {"field": "db", "type": "quantitative"},
        "text": {"field": "rest"}
      }
    }
  ]
}
